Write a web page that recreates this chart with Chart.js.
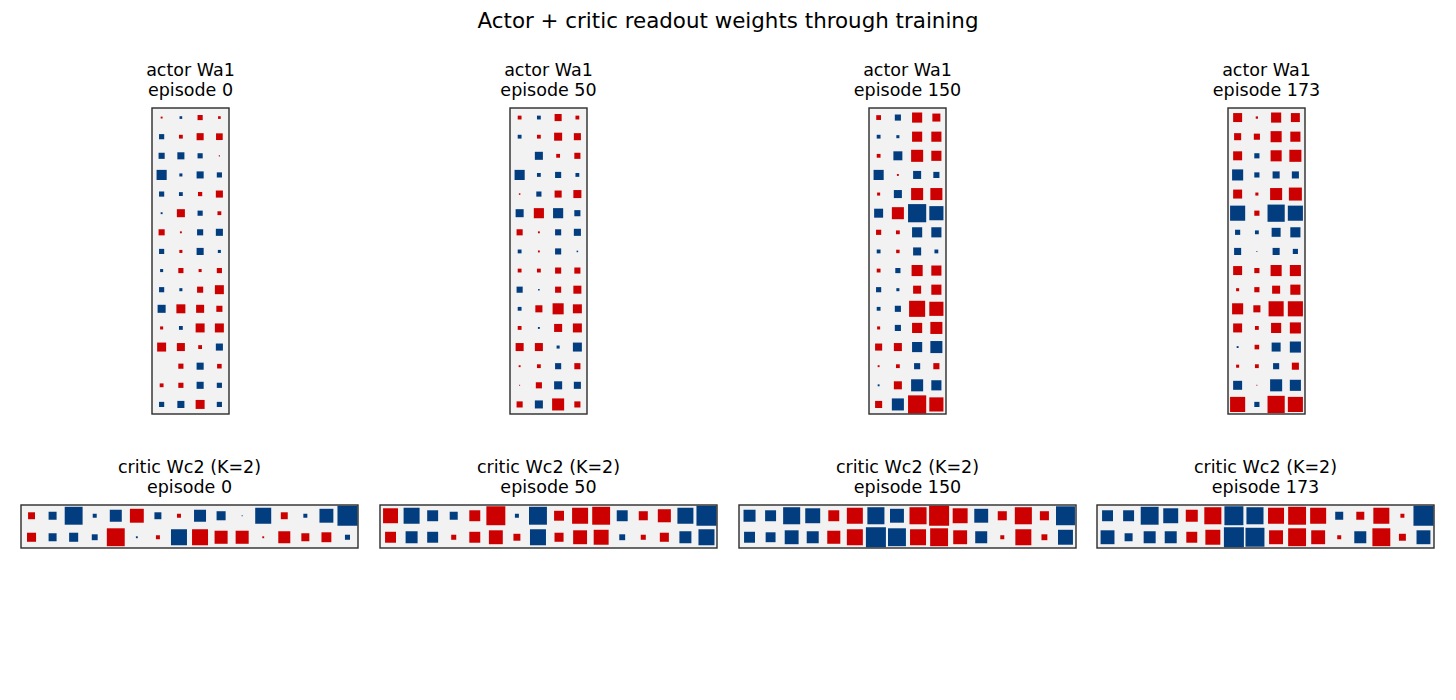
<!DOCTYPE html>
<html>
<head>
<meta charset="utf-8">
<title>Actor + critic readout weights through training</title>
<script src="https://cdn.jsdelivr.net/npm/chart.js@4"></script>
<style>
  body { margin: 0; background: #fff; }
  #wrap { position: relative; width: 1456px; height: 700px; overflow: hidden; }
  #suptitle {
    position: absolute; left: 0; top: 8px; width: 1456px; text-align: center;
    font: 21.4px "DejaVu Sans", sans-serif; color: #000; line-height: 26px;
  }
  .ptitle {
    position: absolute; width: 300px; text-align: center; white-space: pre;
    font: 17.5px "DejaVu Sans", sans-serif; color: #000; line-height: 19.5px;
  }
  canvas { position: absolute; }
</style>
</head>
<body>
<div id="wrap">
  <div id="suptitle">Actor + critic readout weights through training</div>
</div>
<script>
// ─── Data (signed weights; red = positive, blue = negative) ───
const episodes = [0, 50, 150, 173];

const actorEp0 = [
  [0.10, -0.14, 0.27, 0.14],
  [-0.27, 0.20, 0.37, 0.35],
  [-0.32, -0.37, -0.27, 0.06],
  [-0.53, -0.16, -0.37, -0.27],
  [-0.27, -0.20, 0.22, 0.37],
  [-0.10, 0.42, -0.27, 0.20],
  [0.32, 0.10, -0.32, -0.37],
  [-0.27, 0.16, -0.37, -0.16],
  [-0.16, 0.27, 0.16, 0.27],
  [-0.27, -0.16, 0.32, 0.47],
  [-0.42, 0.47, 0.42, 0.32],
  [0.16, -0.20, 0.47, 0.47],
  [0.47, 0.42, 0.20, -0.37],
  [0.00, 0.27, -0.37, 0.24],
  [0.20, 0.27, -0.37, -0.27],
  [-0.27, -0.37, 0.47, -0.27]
];
const actorEp50 = [
  [0.20, -0.20, 0.37, 0.20],
  [-0.20, 0.20, 0.42, 0.37],
  [0.00, -0.42, 0.20, 0.32],
  [-0.53, -0.20, -0.32, -0.20],
  [0.08, -0.27, 0.37, 0.42],
  [-0.42, 0.53, -0.53, -0.32],
  [0.32, 0.10, -0.32, -0.37],
  [-0.20, 0.10, -0.32, -0.08],
  [0.20, 0.20, 0.32, 0.32],
  [-0.32, -0.08, 0.32, 0.42],
  [-0.20, 0.37, 0.58, 0.47],
  [0.20, -0.10, 0.42, 0.47],
  [0.42, 0.42, -0.16, -0.47],
  [0.10, 0.20, -0.32, 0.32],
  [0.05, 0.32, -0.42, -0.37],
  [0.32, -0.42, 0.63, 0.32]
];
const actorEp150 = [
  [0.25, -0.32, 0.53, 0.42],
  [-0.20, -0.16, 0.53, 0.53],
  [0.20, -0.47, 0.63, 0.53],
  [-0.53, 0.10, -0.42, -0.32],
  [0.16, -0.42, 0.63, 0.63],
  [-0.47, 0.63, -0.95, -0.74],
  [0.27, 0.20, -0.53, -0.53],
  [-0.20, 0.18, -0.42, -0.20],
  [0.20, -0.27, 0.58, 0.53],
  [-0.27, -0.16, 0.42, 0.53],
  [-0.20, -0.32, 0.84, 0.74],
  [0.16, -0.32, 0.53, 0.63],
  [0.37, 0.42, -0.53, -0.63],
  [0.10, 0.20, -0.32, 0.32],
  [-0.10, 0.42, -0.63, -0.53],
  [0.37, -0.63, 0.95, 0.74]
];
const actorEp173 = [
  [0.47, 0.12, 0.53, 0.47],
  [0.37, 0.32, 0.58, 0.53],
  [0.47, -0.27, 0.58, 0.63],
  [-0.58, -0.27, -0.37, -0.37],
  [0.47, 0.16, 0.63, 0.68],
  [-0.79, 0.27, -0.90, -0.79],
  [-0.27, -0.20, -0.47, -0.53],
  [-0.37, -0.05, -0.37, -0.27],
  [0.47, 0.27, 0.58, 0.58],
  [0.16, 0.27, 0.42, 0.53],
  [0.58, 0.37, 0.79, 0.79],
  [0.47, 0.20, 0.53, 0.58],
  [-0.10, 0.24, -0.47, -0.58],
  [0.16, 0.20, -0.32, 0.37],
  [-0.47, 0.05, -0.63, -0.58],
  [0.79, -0.27, 0.90, 0.79]
];

const criticEp0 = [
  [0.33, -0.38, -0.85, -0.19, -0.57, 0.66, -0.33, 0.19, -0.57, -0.43, -0.05, -0.76, 0.33, -0.19, -0.66, -0.95],
  [0.43, -0.38, -0.43, -0.28, 0.85, -0.09, 0.19, -0.76, 0.76, 0.62, 0.62, 0.09, 0.57, 0.38, 0.47, -0.24]
];
const criticEp50 = [
  [0.71, -0.76, -0.52, -0.38, 0.52, 0.90, -0.19, -0.85, 0.47, 0.76, 0.85, -0.52, 0.43, 0.62, -0.76, -0.95],
  [0.52, -0.57, -0.52, 0.24, 0.52, 0.66, 0.33, -0.76, 0.43, 0.66, 0.71, -0.28, 0.24, 0.43, -0.57, -0.76]
];
const criticEp150 = [
  [-0.57, -0.52, -0.81, -0.71, 0.52, 0.76, -0.81, -0.66, 0.81, 0.95, 0.71, -0.66, 0.43, 0.81, 0.43, -0.90],
  [-0.52, -0.47, -0.66, -0.57, 0.62, 0.76, -0.95, -0.85, 0.76, 0.85, 0.66, -0.57, 0.19, 0.76, 0.28, -0.71]
];
const criticEp173 = [
  [-0.52, -0.52, -0.85, -0.71, 0.57, 0.81, -0.90, -0.81, 0.76, 0.85, 0.76, -0.38, 0.38, 0.76, 0.19, -0.95],
  [-0.66, -0.38, -0.57, -0.57, 0.52, 0.71, -0.95, -0.90, 0.66, 0.85, 0.66, 0.19, -0.57, 0.85, 0.33, -0.66]
];

const actorMats = [actorEp0, actorEp50, actorEp150, actorEp173];
const criticMats = [criticEp0, criticEp50, criticEp150, criticEp173];

// ─── Style ───
const RED = "#cc0000";
const BLUE = "#023d7f";
const BG = "#f2f2f2";
const FRAME = "#2b2b2b";
const PAD = 3;

// background + frame around the plotting area
const framePlugin = {
  id: "frame",
  beforeDatasetsDraw(chart) {
    const a = chart.chartArea, ctx = chart.ctx;
    ctx.save();
    ctx.fillStyle = BG;
    ctx.fillRect(a.left, a.top, a.right - a.left, a.bottom - a.top);
    ctx.restore();
  },
  afterDraw(chart) {
    const a = chart.chartArea, ctx = chart.ctx;
    ctx.save();
    ctx.strokeStyle = FRAME;
    ctx.lineWidth = 1.4;
    ctx.strokeRect(a.left, a.top, a.right - a.left, a.bottom - a.top);
    ctx.restore();
  }
};

function toPoints(mat) {
  const pts = [];
  mat.forEach((row, r) => row.forEach((v, c) => pts.push({ x: c, y: r, v })));
  return pts;
}

function addTitle(centerX, top, lines) {
  const d = document.createElement("div");
  d.className = "ptitle";
  d.style.left = (centerX - 150) + "px";
  d.style.top = top + "px";
  d.textContent = lines.join("\n");
  document.getElementById("wrap").appendChild(d);
}

function hinton(left, top, boxW, boxH, mat, titleLines) {
  const nRows = mat.length, nCols = mat[0].length;
  addTitle(left + boxW / 2, top - 47, titleLines);

  const cv = document.createElement("canvas");
  cv.width = boxW + 2 * PAD;
  cv.height = boxH + 2 * PAD;
  cv.style.left = (left - PAD) + "px";
  cv.style.top = (top - PAD) + "px";
  document.getElementById("wrap").appendChild(cv);

  new Chart(cv.getContext("2d"), {
    type: "scatter",
    data: {
      datasets: [{
        data: toPoints(mat),
        pointStyle: "rect",
        borderWidth: 0,
        pointBorderWidth: 0,
        backgroundColor: ctx => (ctx.raw && ctx.raw.v < 0 ? BLUE : RED),
        pointRadius: ctx => {
          const ch = ctx.chart;
          if (!ch.chartArea || !ctx.raw) return 0;
          const cell = Math.min(ch.chartArea.width / nCols, ch.chartArea.height / nRows);
          return Math.abs(ctx.raw.v) * cell / (2 * Math.SQRT1_2);
        },
        pointHoverRadius: 0,
      }],
    },
    options: {
      responsive: false,
      animation: false,
      events: [],
      clip: false,
      layout: { padding: PAD },
      plugins: {
        legend: { display: false },
        tooltip: { enabled: false },
        title: { display: false },
      },
      scales: {
        x: { type: "linear", display: false, min: -0.5, max: nCols - 0.5 },
        y: { type: "linear", display: false, min: -0.5, max: nRows - 0.5, reverse: true },
      },
    },
    plugins: [framePlugin],
  });
}

// ─── Panels ───
const actorLefts = [152, 510, 869, 1228];
const criticLefts = [21, 380, 739, 1097];

episodes.forEach((ep, i) => {
  hinton(actorLefts[i], 108, 77, 306, actorMats[i], ["actor Wa1", "episode " + ep]);
  hinton(criticLefts[i], 505, 337, 43, criticMats[i], ["critic Wc2 (K=2)", "episode " + ep]);
});
</script>
</body>
</html>
